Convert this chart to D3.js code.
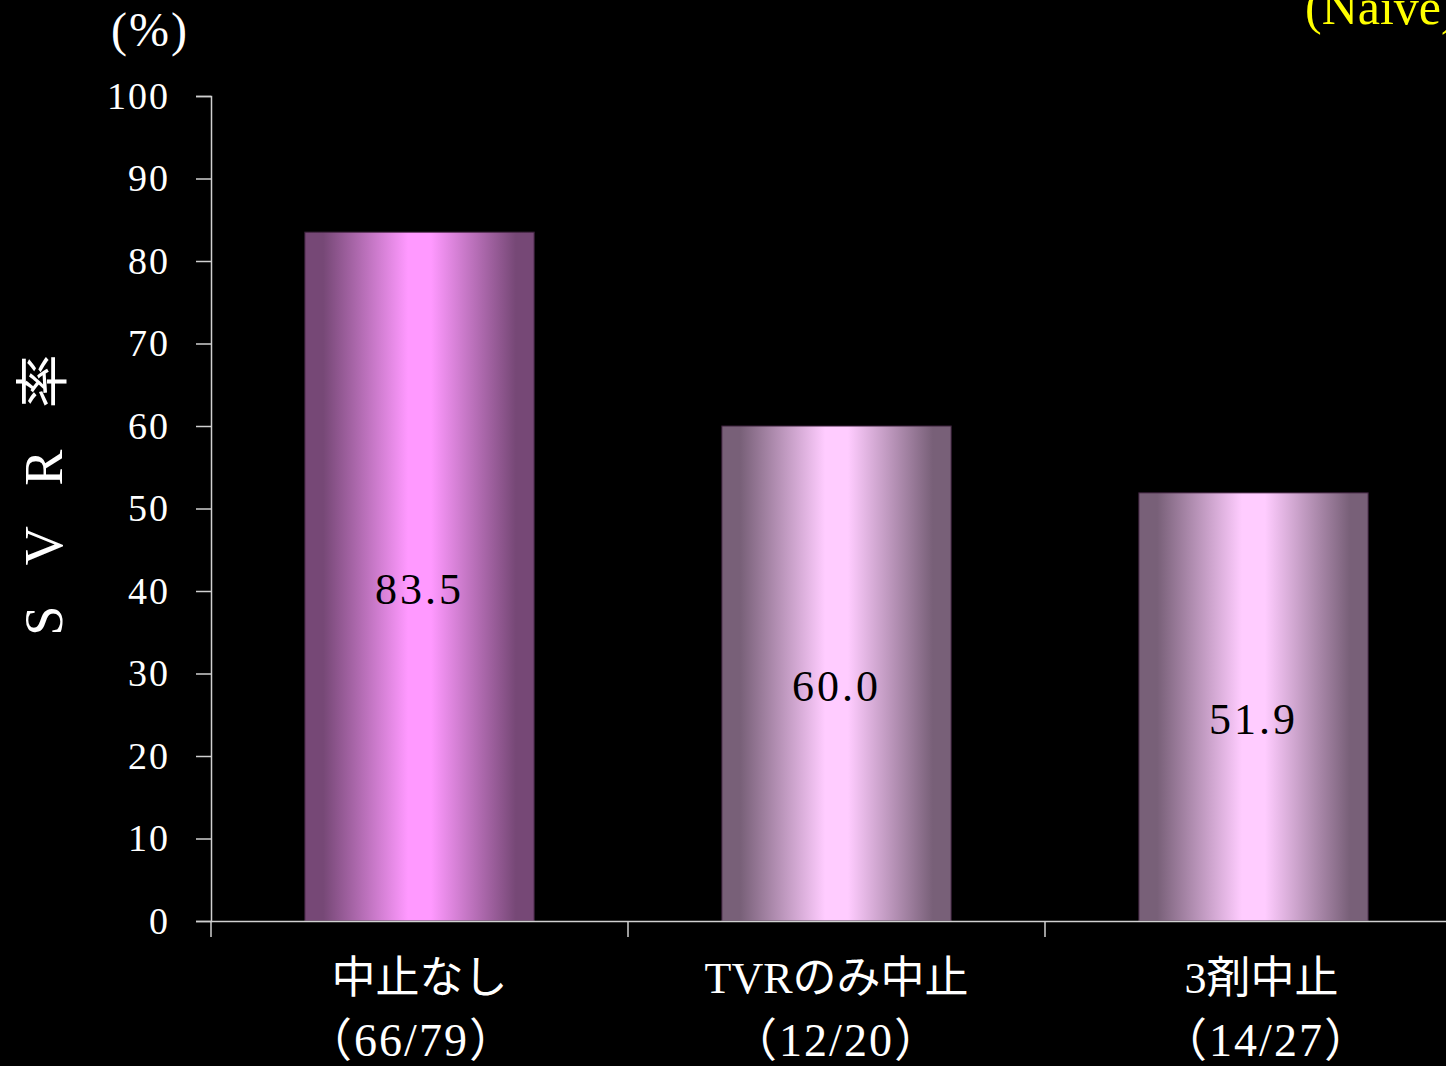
<!DOCTYPE html>
<html>
<head>
<meta charset="utf-8">
<script src="https://cdn.jsdelivr.net/npm/d3@7"></script>
<style>
  body { margin: 0; background: #000; }
  svg { display: block; }
  text { font-family: "Liberation Serif", "Noto Sans CJK JP", serif; fill: #fff; }
</style>
</head>
<body>
<svg width="1446" height="1066"></svg>
<script>
// chart data
const categories = ['中止なし', 'TVRのみ中止', '3剤中止'];
const counts = ['（66/79）', '（12/20）', '（14/27）'];
const svrRates = [83.5, 60.0, 51.9];
const yTicks = [0, 10, 20, 30, 40, 50, 60, 70, 80, 90, 100];
const barColors = [
  { edge: '#764876', mid: '#ff99ff' },
  { edge: '#786078', mid: '#ffccff' },
  { edge: '#786078', mid: '#ffccff' }
];

const svg = d3.select('svg');
const plotLeft = 211, plotBottom = 921, plotTop = 96;
const step = 417;

const x = d3.scaleBand()
  .domain(categories)
  .range([plotLeft, plotLeft + step * categories.length])
  .padding(0);

const y = d3.scaleLinear().domain([0, 100]).range([plotBottom, plotTop]);

// gradients for the cylinder-like bars
const defs = svg.append('defs');
barColors.forEach((c, i) => {
  const g = defs.append('linearGradient')
    .attr('id', 'grad' + i)
    .attr('x1', '0%').attr('x2', '100%').attr('y1', '0%').attr('y2', '0%');
  g.append('stop').attr('offset', '0%').attr('stop-color', c.edge);
  g.append('stop').attr('offset', '8%').attr('stop-color', c.edge);
  g.append('stop').attr('offset', '45%').attr('stop-color', c.mid);
  g.append('stop').attr('offset', '55%').attr('stop-color', c.mid);
  g.append('stop').attr('offset', '92%').attr('stop-color', c.edge);
  g.append('stop').attr('offset', '100%').attr('stop-color', c.edge);
});

// y axis
const yAxis = svg.append('g')
  .attr('transform', `translate(${plotLeft},0)`)
  .call(d3.axisLeft(y).tickValues(yTicks).tickSize(15).tickPadding(26));
yAxis.select('.domain').attr('stroke', '#d0d0d0').attr('stroke-width', 1.5);
yAxis.selectAll('.tick line').attr('stroke', '#d0d0d0').attr('stroke-width', 1.5);
yAxis.selectAll('.tick text')
  .attr('fill', '#fff')
  .style('font-family', '"Liberation Serif", serif')
  .style('font-size', '38px')
  .style('letter-spacing', '2px');

// bars
const barW = step * 0.55;
svg.append('g')
  .selectAll('rect')
  .data(svrRates)
  .join('rect')
    .attr('x', (d, i) => x(categories[i]) + x.bandwidth() / 2 - barW / 2)
    .attr('y', d => y(d))
    .attr('width', barW)
    .attr('height', d => plotBottom - y(d))
    .attr('fill', (d, i) => `url(#grad${i})`)
    .attr('stroke', '#3a203a')
    .attr('stroke-width', 1);

// value labels
svg.append('g')
  .selectAll('text')
  .data(svrRates)
  .join('text')
    .attr('x', (d, i) => x(categories[i]) + x.bandwidth() / 2)
    .attr('y', d => (y(d) + plotBottom) / 2 + 27)
    .attr('text-anchor', 'middle')
    .style('fill', '#000')
    .style('font-size', '44px')
    .style('letter-spacing', '3px')
    .text(d => d.toFixed(1));

// x axis
const xAxis = svg.append('g')
  .attr('transform', `translate(0,${plotBottom})`)
  .call(d3.axisBottom(x).tickSize(0).tickFormat(''));
xAxis.select('.domain').attr('stroke', '#d0d0d0').attr('stroke-width', 1.5);
xAxis.append('g')
  .selectAll('line')
  .data(d3.range(categories.length + 1))
  .join('line')
    .attr('x1', i => plotLeft + i * step)
    .attr('x2', i => plotLeft + i * step)
    .attr('y1', 0).attr('y2', 16)
    .attr('stroke', '#d0d0d0').attr('stroke-width', 1.5);

// category labels
const catOffsets = [0, 0, 8];
svg.append('g')
  .selectAll('text')
  .data(categories)
  .join('text')
    .attr('x', (d, i) => x(d) + x.bandwidth() / 2 + catOffsets[i])
    .attr('y', 993)
    .attr('text-anchor', 'middle')
    .style('font-size', '44px')
    .text(d => d);

const cntOffsets = [-8, 0, 13];
svg.append('g')
  .selectAll('text')
  .data(counts)
  .join('text')
    .attr('x', (d, i) => x(categories[i]) + x.bandwidth() / 2 + cntOffsets[i])
    .attr('y', 1056)
    .attr('text-anchor', 'middle')
    .style('font-size', '46px')
    .style('letter-spacing', '2px')
    .text(d => d);

// units and axis title
svg.append('text')
  .attr('x', 150).attr('y', 46)
  .attr('text-anchor', 'middle')
  .style('font-size', '48px')
  .style('letter-spacing', '2px')
  .text('(%)');

svg.append('text')
  .attr('transform', 'translate(62,488) rotate(-90)')
  .attr('text-anchor', 'middle')
  .style('font-size', '54px')
  .style('letter-spacing', '14px')
  .text('S V R 率');

svg.append('text')
  .attr('x', 1305).attr('y', 24)
  .style('fill', '#ffff00')
  .style('font-size', '50px')
  .text('(Naïve)');
</script>
</body>
</html>
